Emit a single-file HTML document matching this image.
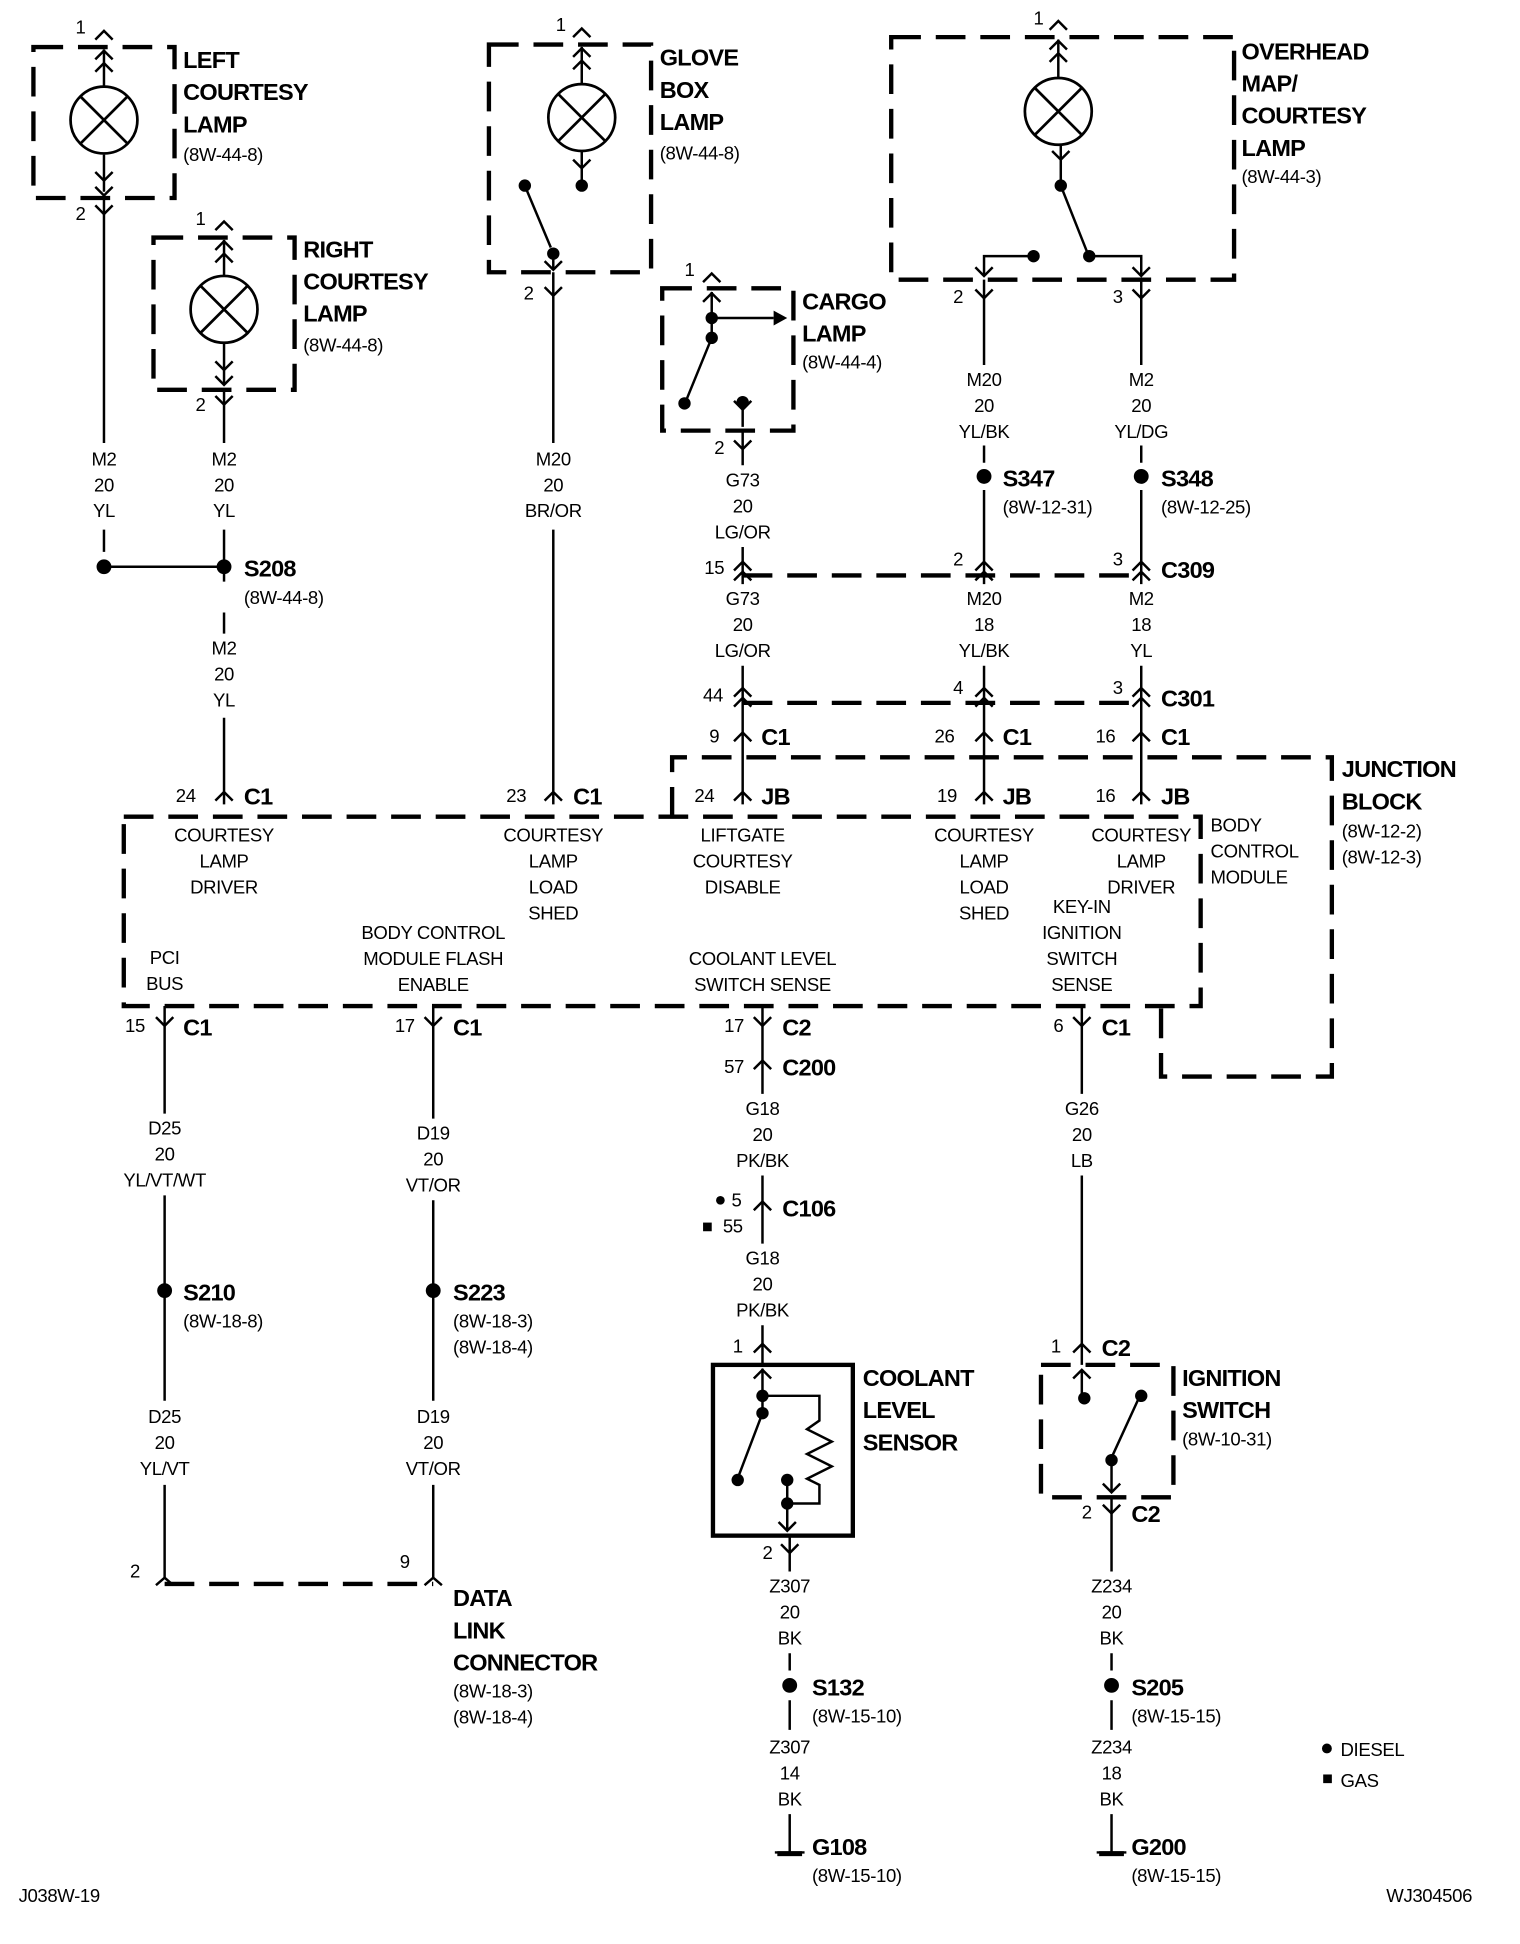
<!DOCTYPE html>
<html><head><meta charset="utf-8"><style>
html,body{margin:0;padding:0;background:#fff;}
svg{display:block;}
text{font-family:"Liberation Sans Narrow","Liberation Sans",sans-serif;fill:#000;}
.b{font-weight:bold;font-size:19px;letter-spacing:-0.6px;}
.s{font-size:15px;letter-spacing:-0.3px;}
.m{text-anchor:middle;}
</style></head><body>
<svg width="1520" height="1944" viewBox="0 0 1228 1571" preserveAspectRatio="none" xmlns="http://www.w3.org/2000/svg">
<defs>
<path id="up" d="M-7,6 L0,-1 L7,6" fill="none" stroke="#000" stroke-width="2"/>
<path id="dn" d="M-7,-6 L0,1 L7,-6" fill="none" stroke="#000" stroke-width="2"/>
<g id="lamp"><circle r="27" fill="none" stroke="#000" stroke-width="2.2"/><path d="M-19,-19 L19,19 M19,-19 L-19,19" stroke="#000" stroke-width="2.2"/></g>
<g id="dconn"><use href="#up" y="-4"/><use href="#up" y="4"/></g>
</defs>
<g fill="none" stroke="#000" stroke-width="2">
<g stroke-width="3.5" stroke-dasharray="24,12">
<rect x="27" y="38" width="114" height="122"/>
<rect x="124" y="192" width="114" height="123"/>
<rect x="395" y="36" width="131" height="184"/>
<rect x="535" y="233" width="106" height="115"/>
<rect x="720" y="30" width="277" height="196"/>
<rect x="100" y="660" width="870" height="153"/>
<path d="M543,660 V612 H1076 V870 H938 V813"/>
<rect x="841" y="1103" width="107" height="107"/>
<path d="M600,465 H922 M600,568 H922 M133,1280 H350"/>
</g>
<rect x="576" y="1103" width="113" height="138" stroke-width="3.5"/>
<path d="M84,160 V358 M84,428 V446 M84,458 H181"/>
<path d="M181,315 V358 M181,428 V470 M181,495 V512 M181,580 V650"/>
<path d="M447,220 V358 M447,428 V650"/>
<path d="M600,348 V376 M600,442 V472 M600,538 V650"/>
<path d="M795,226 V295 M795,360 V374 M795,396 V472 M795,538 V650"/>
<path d="M922,226 V295 M922,360 V374 M922,396 V472 M922,538 V650"/>
<path d="M133,813 V900 M133,966 V1132 M133,1200 V1275 L126,1281 M133,1275 L140,1281"/>
<path d="M350,813 V904 M350,970 V1132 M350,1200 V1275 L343,1281 M350,1275 L357,1281"/>
<path d="M616,813 V884 M616,950 V1005 M616,1071 V1103"/>
<path d="M874,813 V884 M874,950 V1103"/>
<path d="M638,1241 V1270 M638,1336 V1350 M638,1374 V1398 M638,1466 V1497 M626,1497 H650"/>
<path d="M898,1210 V1270 M898,1336 V1350 M898,1374 V1398 M898,1466 V1497 M886,1497 H910"/>
<path d="M84,40 V70 M84,125 V155 M181,194 V223 M181,278 V310 M470,38 V68 M470,122 V148 M855,32 V63 M857,117 V150"/>
<path d="M424,150 L445,200 M447,205 V218"/>
<path d="M575,236 V273 M575,257 H625 M575,273 L555,322 M600,323 V345"/>
<path d="M857,150 L878,203 M835,207 H795 V222 M880,207 H922 V222"/>
<path d="M616,1106 V1142 M616,1128 H662 V1148 L652,1155 L672,1165 L652,1175 L672,1185 L652,1195 L662,1200 V1215 H636 M636,1196 V1236 M616,1142 L597,1192"/>
<path d="M874,1108 V1128 M898,1178 V1205 M898,1178 L920,1130"/>
</g>
<use href="#lamp" x="84" y="97"/><use href="#lamp" x="181" y="250"/><use href="#lamp" x="470" y="95"/><use href="#lamp" x="855" y="90"/>
<g>
<use href="#up" x="84" y="26"/><use href="#up" x="84" y="42"/><use href="#up" x="84" y="52"/><use href="#dn" x="84" y="145"/><use href="#dn" x="84" y="157"/><use href="#dn" x="84" y="172"/>
<use href="#up" x="181" y="180"/><use href="#up" x="181" y="196"/><use href="#up" x="181" y="206"/><use href="#dn" x="181" y="298"/><use href="#dn" x="181" y="310"/><use href="#dn" x="181" y="326"/>
<use href="#up" x="470" y="24"/><use href="#up" x="470" y="40"/><use href="#up" x="470" y="50"/><use href="#dn" x="470" y="135"/><use href="#dn" x="447" y="217"/><use href="#dn" x="447" y="238"/>
<use href="#up" x="575" y="222"/><use href="#up" x="575" y="238"/><use href="#dn" x="600" y="330"/><use href="#dn" x="600" y="362"/>
<use href="#up" x="855" y="18"/><use href="#up" x="855" y="34"/><use href="#up" x="855" y="44"/><use href="#dn" x="857" y="128"/><use href="#dn" x="795" y="222"/><use href="#dn" x="922" y="222"/><use href="#dn" x="795" y="240"/><use href="#dn" x="922" y="240"/>
<use href="#dconn" x="600" y="459"/><use href="#dconn" x="795" y="459"/><use href="#dconn" x="922" y="459"/>
<use href="#dconn" x="600" y="561"/><use href="#dconn" x="795" y="561"/><use href="#dconn" x="922" y="561"/>
<use href="#up" x="600" y="593"/><use href="#up" x="795" y="593"/><use href="#up" x="922" y="593"/>
<use href="#up" x="600" y="641"/><use href="#up" x="795" y="641"/><use href="#up" x="922" y="641"/><use href="#up" x="181" y="641"/><use href="#up" x="447" y="641"/>
<use href="#dn" x="133" y="828"/><use href="#dn" x="350" y="828"/><use href="#dn" x="616" y="828"/><use href="#dn" x="874" y="828"/>
<use href="#up" x="616" y="858"/><use href="#up" x="616" y="972"/>
<use href="#up" x="616" y="1087"/><use href="#up" x="616" y="1108"/><use href="#dn" x="636" y="1236"/><use href="#dn" x="638" y="1254"/>
<use href="#up" x="874" y="1087"/><use href="#up" x="874" y="1108"/><use href="#dn" x="898" y="1205"/><use href="#dn" x="898" y="1222"/>
</g>
<g fill="#000">
<circle cx="84" cy="458" r="6"/><circle cx="181" cy="458" r="6"/>
<circle cx="424" cy="150" r="5"/><circle cx="470" cy="150" r="5"/><circle cx="447" cy="205" r="5"/>
<circle cx="575" cy="257" r="5"/><circle cx="575" cy="273" r="5"/><circle cx="553" cy="326" r="5"/><circle cx="600" cy="325" r="5"/>
<path d="M625,251 L636,257 L625,263Z"/>
<circle cx="857" cy="150" r="5"/><circle cx="835" cy="207" r="5"/><circle cx="880" cy="207" r="5"/>
<circle cx="795" cy="385" r="6"/><circle cx="922" cy="385" r="6"/>
<circle cx="133" cy="1043" r="6"/><circle cx="350" cy="1043" r="6"/>
<circle cx="638" cy="1362" r="6"/><circle cx="898" cy="1362" r="6"/>
<circle cx="616" cy="1128" r="5"/><circle cx="616" cy="1142" r="5"/><circle cx="596" cy="1196" r="5"/><circle cx="636" cy="1196" r="5"/><circle cx="636" cy="1215" r="5"/>
<circle cx="876" cy="1130" r="5"/><circle cx="922" cy="1128" r="5"/><circle cx="898" cy="1180" r="5"/>
<circle cx="582" cy="970" r="3.5"/><rect x="568" y="988" width="7" height="7"/>
<circle cx="1072" cy="1413" r="4"/><rect x="1069" y="1434" width="7" height="7"/>
<rect x="628" y="1496" width="20" height="4"/><rect x="888" y="1496" width="20" height="4"/>
</g>
<g class="b">
<text x="148" y="55">LEFT</text><text x="148" y="81">COURTESY</text><text x="148" y="107">LAMP</text>
<text x="245" y="208">RIGHT</text><text x="245" y="234">COURTESY</text><text x="245" y="260">LAMP</text>
<text x="533" y="53">GLOVE</text><text x="533" y="79">BOX</text><text x="533" y="105">LAMP</text>
<text x="648" y="250">CARGO</text><text x="648" y="276">LAMP</text>
<text x="1003" y="48">OVERHEAD</text><text x="1003" y="74">MAP/</text><text x="1003" y="100">COURTESY</text><text x="1003" y="126">LAMP</text>
<text x="1084" y="628">JUNCTION</text><text x="1084" y="654">BLOCK</text>
<text x="697" y="1120">COOLANT</text><text x="697" y="1146">LEVEL</text><text x="697" y="1172">SENSOR</text>
<text x="955" y="1120">IGNITION</text><text x="955" y="1146">SWITCH</text>
<text x="366" y="1298">DATA</text><text x="366" y="1324">LINK</text><text x="366" y="1350">CONNECTOR</text>
<text x="197" y="466">S208</text><text x="810" y="393">S347</text><text x="938" y="393">S348</text>
<text x="938" y="467">C309</text><text x="938" y="571">C301</text>
<text x="615" y="602">C1</text><text x="810" y="602">C1</text><text x="938" y="602">C1</text>
<text x="197" y="650">C1</text><text x="463" y="650">C1</text><text x="615" y="650">JB</text><text x="810" y="650">JB</text><text x="938" y="650">JB</text>
<text x="148" y="837">C1</text><text x="366" y="837">C1</text><text x="632" y="837">C2</text><text x="890" y="837">C1</text>
<text x="632" y="869">C200</text><text x="632" y="983">C106</text>
<text x="890" y="1096">C2</text><text x="914" y="1230">C2</text>
<text x="148" y="1051">S210</text><text x="366" y="1051">S223</text>
<text x="656" y="1370">S132</text><text x="914" y="1370">S205</text>
<text x="656" y="1499">G108</text><text x="914" y="1499">G200</text>
</g>
<g class="s">
<text x="148" y="130">(8W-44-8)</text><text x="245" y="284">(8W-44-8)</text><text x="533" y="129">(8W-44-8)</text>
<text x="648" y="298">(8W-44-4)</text><text x="1003" y="148">(8W-44-3)</text>
<text x="197" y="488">(8W-44-8)</text><text x="810" y="415">(8W-12-31)</text><text x="938" y="415">(8W-12-25)</text>
<text x="1084" y="677">(8W-12-2)</text><text x="1084" y="698">(8W-12-3)</text>
<text x="978" y="672">BODY</text><text x="978" y="693">CONTROL</text><text x="978" y="714">MODULE</text>
<text x="148" y="1073">(8W-18-8)</text><text x="366" y="1073">(8W-18-3)</text><text x="366" y="1094">(8W-18-4)</text>
<text x="366" y="1372">(8W-18-3)</text><text x="366" y="1393">(8W-18-4)</text>
<text x="955" y="1168">(8W-10-31)</text>
<text x="656" y="1392">(8W-15-10)</text><text x="914" y="1392">(8W-15-15)</text>
<text x="656" y="1521">(8W-15-10)</text><text x="914" y="1521">(8W-15-15)</text>
<text x="1083" y="1419">DIESEL</text><text x="1083" y="1444">GAS</text>
<text x="15" y="1537">J038W-19</text><text x="1120" y="1537">WJ304506</text>
<text x="61" y="27">1</text><text x="61" y="178">2</text><text x="158" y="182">1</text><text x="158" y="332">2</text>
<text x="449" y="25">1</text><text x="423" y="242">2</text><text x="553" y="223">1</text><text x="577" y="367">2</text>
<text x="835" y="20">1</text><text x="770" y="245">2</text><text x="899" y="245">3</text>
<text x="569" y="464">15</text><text x="770" y="457">2</text><text x="899" y="457">3</text>
<text x="568" y="567">44</text><text x="770" y="561">4</text><text x="899" y="561">3</text>
<text x="573" y="600">9</text><text x="755" y="600">26</text><text x="885" y="600">16</text>
<text x="561" y="648">24</text><text x="757" y="648">19</text><text x="885" y="648">16</text>
<text x="142" y="648">24</text><text x="409" y="648">23</text>
<text x="101" y="834">15</text><text x="319" y="834">17</text><text x="585" y="834">17</text><text x="851" y="834">6</text>
<text x="585" y="867">57</text><text x="591" y="975">5</text><text x="584" y="996">55</text>
<text x="592" y="1093">1</text><text x="849" y="1093">1</text><text x="616" y="1260">2</text><text x="874" y="1227">2</text>
<text x="105" y="1275">2</text><text x="323" y="1267">9</text>
</g>
<g class="s m">
<text x="84" y="376">M2</text><text x="84" y="397">20</text><text x="84" y="418">YL</text>
<text x="181" y="376">M2</text><text x="181" y="397">20</text><text x="181" y="418">YL</text>
<text x="181" y="529">M2</text><text x="181" y="550">20</text><text x="181" y="571">YL</text>
<text x="447" y="376">M20</text><text x="447" y="397">20</text><text x="447" y="418">BR/OR</text>
<text x="600" y="393">G73</text><text x="600" y="414">20</text><text x="600" y="435">LG/OR</text>
<text x="600" y="489">G73</text><text x="600" y="510">20</text><text x="600" y="531">LG/OR</text>
<text x="795" y="312">M20</text><text x="795" y="333">20</text><text x="795" y="354">YL/BK</text>
<text x="795" y="489">M20</text><text x="795" y="510">18</text><text x="795" y="531">YL/BK</text>
<text x="922" y="312">M2</text><text x="922" y="333">20</text><text x="922" y="354">YL/DG</text>
<text x="922" y="489">M2</text><text x="922" y="510">18</text><text x="922" y="531">YL</text>
<text x="181" y="680">COURTESY</text><text x="181" y="701">LAMP</text><text x="181" y="722">DRIVER</text>
<text x="447" y="680">COURTESY</text><text x="447" y="701">LAMP</text><text x="447" y="722">LOAD</text><text x="447" y="743">SHED</text>
<text x="600" y="680">LIFTGATE</text><text x="600" y="701">COURTESY</text><text x="600" y="722">DISABLE</text>
<text x="795" y="680">COURTESY</text><text x="795" y="701">LAMP</text><text x="795" y="722">LOAD</text><text x="795" y="743">SHED</text>
<text x="922" y="680">COURTESY</text><text x="922" y="701">LAMP</text><text x="922" y="722">DRIVER</text>
<text x="874" y="738">KEY-IN</text><text x="874" y="759">IGNITION</text><text x="874" y="780">SWITCH</text><text x="874" y="801">SENSE</text>
<text x="133" y="779">PCI</text><text x="133" y="800">BUS</text>
<text x="350" y="759">BODY CONTROL</text><text x="350" y="780">MODULE FLASH</text><text x="350" y="801">ENABLE</text>
<text x="616" y="780">COOLANT LEVEL</text><text x="616" y="801">SWITCH SENSE</text>
<text x="133" y="917">D25</text><text x="133" y="938">20</text><text x="133" y="959">YL/VT/WT</text>
<text x="133" y="1150">D25</text><text x="133" y="1171">20</text><text x="133" y="1192">YL/VT</text>
<text x="350" y="921">D19</text><text x="350" y="942">20</text><text x="350" y="963">VT/OR</text>
<text x="350" y="1150">D19</text><text x="350" y="1171">20</text><text x="350" y="1192">VT/OR</text>
<text x="616" y="901">G18</text><text x="616" y="922">20</text><text x="616" y="943">PK/BK</text>
<text x="616" y="1022">G18</text><text x="616" y="1043">20</text><text x="616" y="1064">PK/BK</text>
<text x="874" y="901">G26</text><text x="874" y="922">20</text><text x="874" y="943">LB</text>
<text x="638" y="1287">Z307</text><text x="638" y="1308">20</text><text x="638" y="1329">BK</text>
<text x="638" y="1417">Z307</text><text x="638" y="1438">14</text><text x="638" y="1459">BK</text>
<text x="898" y="1287">Z234</text><text x="898" y="1308">20</text><text x="898" y="1329">BK</text>
<text x="898" y="1417">Z234</text><text x="898" y="1438">18</text><text x="898" y="1459">BK</text>
</g>
</svg>
</body></html>
